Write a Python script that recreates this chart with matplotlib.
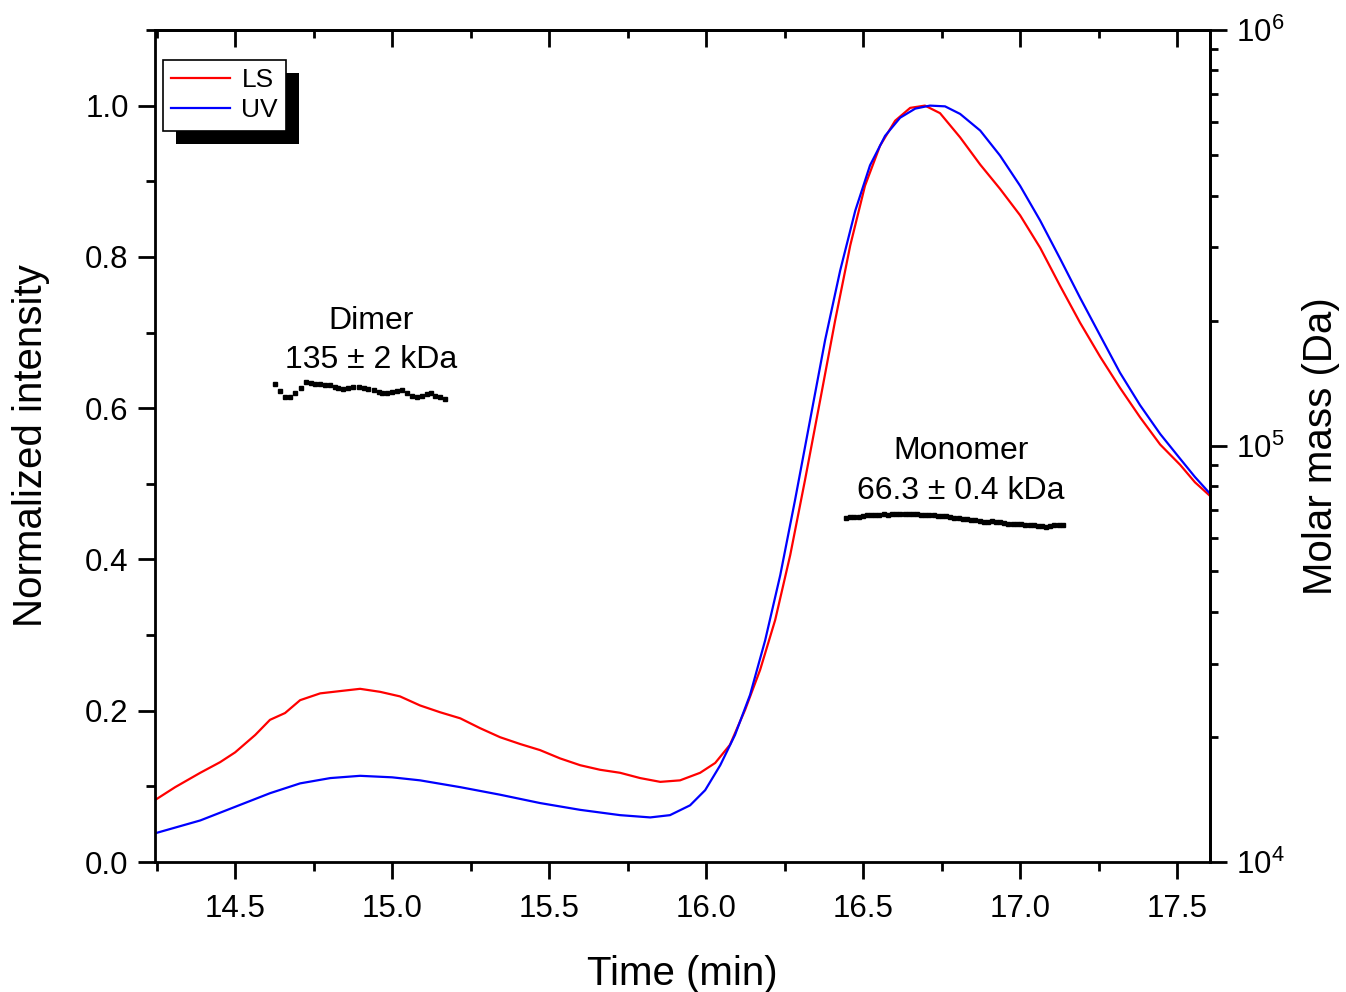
"""SEC-MALS trace: normalized LS and UV signals with molar mass across the peaks.

Writes out.png (1346x992) in the working folder.
"""

import matplotlib

matplotlib.use("Agg")  # headless
import matplotlib.pyplot as plt
from matplotlib.patches import Rectangle
from matplotlib.ticker import FixedLocator, LogLocator, MultipleLocator, NullFormatter

plt.rcParams["font.family"] = ["Liberation Sans", "DejaVu Sans"]
plt.rcParams["mathtext.fontset"] = "custom"
plt.rcParams["mathtext.rm"] = "Liberation Sans"
plt.rcParams["mathtext.default"] = "regular"

# light scattering trace, time (min) vs normalized intensity
ls_time = [14.245, 14.309, 14.389, 14.452, 14.500, 14.564, 14.611, 14.659, 14.707, 14.771,
           14.834, 14.898, 14.962, 15.025, 15.089, 15.153, 15.217, 15.280, 15.344, 15.408,
           15.471, 15.535, 15.599, 15.662, 15.726, 15.790, 15.854, 15.917, 15.981, 16.029,
           16.076, 16.124, 16.172, 16.220, 16.268, 16.315, 16.363, 16.411, 16.459, 16.506,
           16.554, 16.602, 16.650, 16.697, 16.745, 16.809, 16.873, 16.936, 17.000, 17.064,
           17.127, 17.191, 17.255, 17.318, 17.382, 17.446, 17.510, 17.557, 17.605]
ls_signal = [0.082, 0.099, 0.118, 0.132, 0.145, 0.168, 0.188, 0.197, 0.214, 0.223,
             0.226, 0.229, 0.225, 0.219, 0.207, 0.198, 0.190, 0.177, 0.165, 0.156,
             0.148, 0.137, 0.128, 0.122, 0.118, 0.111, 0.106, 0.108, 0.118, 0.131,
             0.155, 0.201, 0.254, 0.320, 0.406, 0.505, 0.610, 0.716, 0.815, 0.894,
             0.947, 0.980, 0.997, 1.000, 0.990, 0.958, 0.922, 0.890, 0.855, 0.812,
             0.762, 0.713, 0.668, 0.627, 0.588, 0.552, 0.525, 0.502, 0.484]

# UV absorbance trace
uv_time = [14.245, 14.389, 14.500, 14.611, 14.707, 14.803, 14.898, 15.000, 15.089, 15.217,
           15.344, 15.471, 15.599, 15.726, 15.822, 15.885, 15.949, 15.997, 16.045, 16.092,
           16.140, 16.188, 16.236, 16.283, 16.331, 16.379, 16.427, 16.475, 16.522, 16.570,
           16.618, 16.666, 16.713, 16.761, 16.809, 16.873, 16.936, 17.000, 17.064, 17.127,
           17.191, 17.255, 17.318, 17.382, 17.446, 17.510, 17.557, 17.605]
uv_signal = [0.038, 0.055, 0.073, 0.091, 0.104, 0.111, 0.114, 0.112, 0.108, 0.099,
             0.089, 0.078, 0.069, 0.062, 0.059, 0.062, 0.075, 0.095, 0.128, 0.168,
             0.221, 0.293, 0.379, 0.478, 0.584, 0.690, 0.782, 0.861, 0.921, 0.960,
             0.984, 0.996, 1.000, 0.999, 0.989, 0.967, 0.934, 0.894, 0.848, 0.798,
             0.746, 0.696, 0.647, 0.604, 0.566, 0.533, 0.509, 0.487]

# molar mass slices (kDa)
dimer_time = [14.627, 14.643, 14.659, 14.675, 14.691, 14.710, 14.726, 14.741, 14.755, 14.771,
              14.787, 14.803, 14.818, 14.829, 14.845, 14.861, 14.877, 14.893, 14.909, 14.922,
              14.941, 14.957, 14.969, 14.983, 14.999, 15.015, 15.031, 15.047, 15.063, 15.079,
              15.095, 15.111, 15.124, 15.137, 15.153, 15.167]
dimer_mass = [140.7, 135.6, 131.4, 131.0, 133.9, 137.6, 142.8, 141.5, 140.9, 140.7,
              140.4, 139.9, 138.8, 137.6, 136.9, 138.1, 138.4, 138.4, 138.1, 137.4,
              136.4, 135.1, 134.3, 133.9, 134.6, 135.6, 136.4, 134.3, 131.9, 131.0,
              131.9, 133.1, 134.3, 131.9, 131.0, 129.5]

monomer_time = [16.446, 16.459, 16.472, 16.486, 16.499, 16.512, 16.526, 16.539, 16.552, 16.565,
                16.579, 16.592, 16.605, 16.618, 16.632, 16.645, 16.658, 16.672, 16.685, 16.698,
                16.711, 16.725, 16.738, 16.751, 16.764, 16.778, 16.791, 16.804, 16.818, 16.831,
                16.844, 16.857, 16.871, 16.884, 16.897, 16.910, 16.924, 16.937, 16.950, 16.963,
                16.977, 16.990, 17.003, 17.017, 17.030, 17.043, 17.056, 17.070, 17.083, 17.096,
                17.109, 17.123, 17.136]
monomer_mass = [67.3, 67.5, 67.6, 67.5, 67.7, 68.1, 68.4, 68.3, 68.4, 68.5,
                68.4, 68.5, 68.6, 68.6, 68.7, 68.6, 68.5, 68.5, 68.4, 68.3,
                68.3, 68.1, 68.0, 67.9, 67.7, 67.5, 67.3, 67.1, 66.9, 66.6,
                66.5, 66.3, 65.9, 65.5, 65.8, 66.0, 65.8, 65.5, 65.2, 65.1,
                64.9, 64.8, 64.8, 64.6, 64.6, 64.5, 64.3, 64.2, 63.9, 64.3,
                64.5, 64.6, 64.5]

mass_ticks = [1e4, 1e5, 1e6]
mass_tick_labels = ["$10^{4}$", "$10^{5}$", "$10^{6}$"]

annotations = [
    ("Dimer\n135 ± 2 kDa", 14.933, 0.690),
    ("Monomer\n66.3 ± 0.4 kDa", 16.812, 0.517),
]

LW = 2.0


def main():
    fig = plt.figure(figsize=(13.46, 9.92), dpi=100)
    ax = fig.add_axes([0.1152, 0.131, 0.7838, 0.8388])

    ax.plot(ls_time, ls_signal, color="#ff0000", lw=1.6, label="LS")
    ax.plot(uv_time, uv_signal, color="#0000ff", lw=1.6, label="UV")
    ax.set_xlim(14.245, 17.605)
    ax.set_ylim(0, 1.1)

    for spine in ax.spines.values():
        spine.set_linewidth(LW)

    ax.xaxis.set_major_locator(MultipleLocator(0.5))
    ax.xaxis.set_minor_locator(MultipleLocator(0.25))
    ax.yaxis.set_major_locator(MultipleLocator(0.2))
    ax.yaxis.set_minor_locator(MultipleLocator(0.1))
    ax.xaxis.set_major_formatter(lambda v, _: f"{v:.1f}")
    ax.yaxis.set_major_formatter(lambda v, _: f"{v:.1f}")
    ax.tick_params(which="major", direction="out", length=12, width=LW, labelsize=22.5)
    ax.tick_params(which="minor", direction="out", length=6.5, width=LW)
    ax.tick_params(axis="x", pad=11)
    ax.tick_params(axis="y", pad=7)

    # top edge carries inward ticks without labels
    top = ax.secondary_xaxis("top")
    top.xaxis.set_major_locator(MultipleLocator(0.5))
    top.xaxis.set_minor_locator(MultipleLocator(0.25))
    top.xaxis.set_major_formatter(NullFormatter())
    top.tick_params(which="major", direction="in", length=12, width=LW)
    top.tick_params(which="minor", direction="in", length=6, width=LW)
    top.spines["top"].set_linewidth(LW)

    ax.set_xlabel("Time (min)", fontsize=29, labelpad=22)
    ax.set_ylabel("Normalized intensity", fontsize=29, labelpad=25)

    for text, x, y in annotations:
        ax.text(x, y, text, fontsize=23, ha="center", va="center",
                multialignment="center", linespacing=1.4)

    # molar mass on a log right axis
    ax2 = ax.twinx()
    ax2.set_yscale("log")
    ax2.plot(dimer_time, [m * 1000 for m in dimer_mass], "s", color="black", ms=3.2)
    ax2.plot(monomer_time, [m * 1000 for m in monomer_mass], "s", color="black", ms=3.2)
    ax2.set_ylim(1e4, 1e6)
    ax2.yaxis.set_major_locator(FixedLocator(mass_ticks))
    ax2.set_yticklabels(mass_tick_labels)
    ax2.yaxis.set_minor_locator(LogLocator(base=10, subs=range(2, 10)))
    ax2.yaxis.set_minor_formatter(NullFormatter())
    ax2.tick_params(which="major", direction="out", length=12, width=LW, labelsize=22.5, pad=7)
    ax2.tick_params(which="minor", direction="out", length=6, width=LW)
    ax2.spines["right"].set_linewidth(LW)
    ax2.set_ylabel("Molar mass (Da)", fontsize=29, labelpad=12)

    leg = ax.legend(loc="upper left", bbox_to_anchor=(163 / 1346, 1 - 60 / 992),
                    bbox_transform=fig.transFigure, fontsize=19, frameon=True,
                    fancybox=False, borderaxespad=0, handlelength=2.2,
                    handletextpad=0.45, labelspacing=0.22, borderpad=0.32)
    leg.get_frame().set_edgecolor("black")
    leg.get_frame().set_linewidth(1.2)
    leg.get_frame().set_alpha(1)

    # solid black drop shadow, offset down-right
    fig.canvas.draw()
    bb = leg.get_window_extent()
    to_axes = ax.transAxes.inverted()
    (x0, y0), (x1, y1) = to_axes.transform([(bb.x0 + 13, bb.y0 - 13), (bb.x1 + 13, bb.y1 - 13)])
    ax.add_patch(Rectangle((x0, y0), x1 - x0, y1 - y0, transform=ax.transAxes,
                           facecolor="black", edgecolor="none", zorder=4.9, clip_on=False))

    fig.savefig("out.png", dpi=100)
    plt.close(fig)


if __name__ == "__main__":
    main()
